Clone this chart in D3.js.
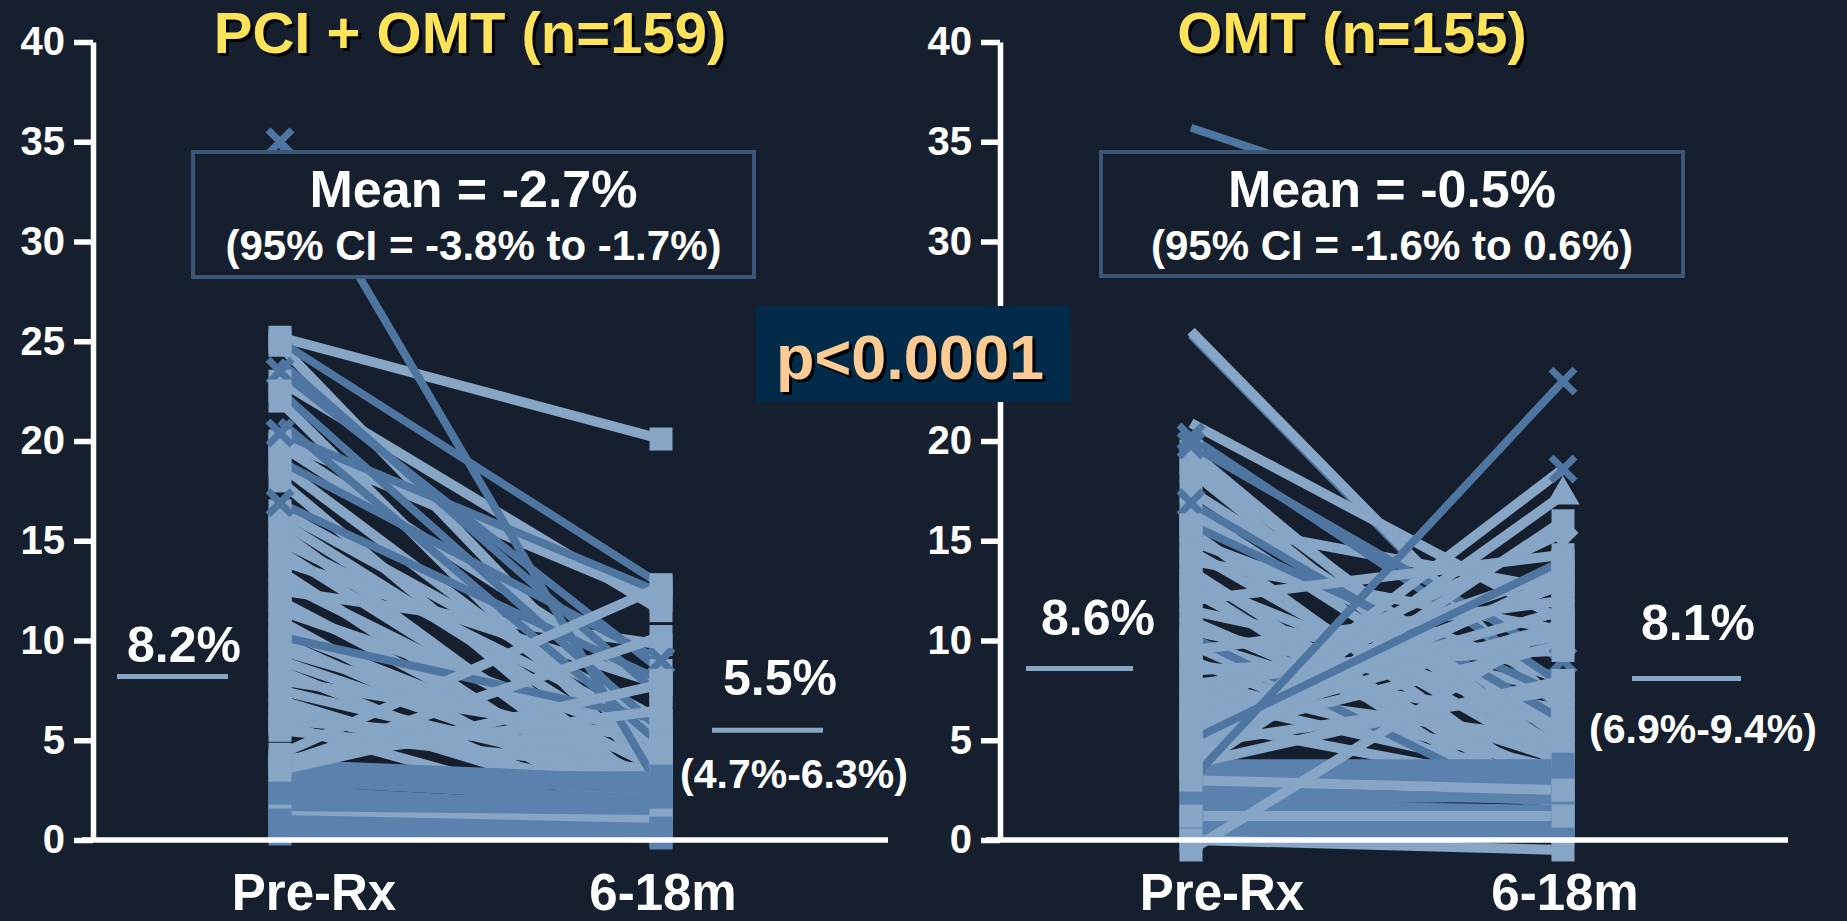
<!DOCTYPE html>
<html>
<head>
<meta charset="utf-8">
<script src="https://cdn.jsdelivr.net/npm/d3@7"></script>
<style>
  html, body { margin: 0; padding: 0; background: #151f2d; }
  svg { display: block; }
  text { font-family: "Liberation Sans", Arial, sans-serif; font-weight: bold; }
</style>
</head>
<body>
<svg id="chart" width="1847" height="921"></svg>
<script>
// ---- data -------------------------------------------------------------
const timepoints = ["Pre-Rx", "6-18m"];
const yTicks = [0, 5, 10, 15, 20, 25, 30, 35, 40];

// tone: 0 = light, 1 = dark, 2 = mid ; mark: pre/post marker codes
// s = square, x = cross, t = triangle, d = diamond, n = none
const pciPre  = [25.2, 24.8, 23.0, 22.0, 20.0, 19.8, 18.8, 18.0, 16.5, 16.0, 15.5, 15.0, 14.5, 14.0, 13.5, 13.0, 12.5, 12.0, 11.5, 11.0, 10.5, 10.0, 9.5, 9.0, 8.5, 8.0, 7.5, 7.0, 6.5, 6.0, 5.8, 5.5,
                 35.0, 25.0, 24.0, 23.5, 22.5, 21.0, 20.4, 19.0, 16.9, 10.2,
                 3.8, 3.5, 3.2, 3.0, 2.8, 2.5, 2.0, 1.8, 1.5, 1.2, 1.0, 0.8, 0.5, 0.3, 0.6,
                 4.3, 3.8, 3.5, 4.0];
const pciPost = [20.1, 5.0, 11.5, 3.0, 12.0, 7.5, 4.5, 2.0, 6.0, 4.0, 1.5, 5.5, 2.5, 7.8, 1.0, 3.5, 9.8, 2.0, 5.0, 0.5, 3.0, 1.5, 4.0, 2.5, 0.8, 5.0, 3.0, 1.2, 2.0, 4.5, 0.5, 3.5,
                 2.5, 12.8, 7.2, 8.5, 5.5, 4.8, 12.4, 9.0, 8.0, 6.0,
                 3.0, 2.5, 3.2, 2.0, 2.8, 1.5, 2.0, 1.2, 1.8, 1.0, 0.6, 0.3, 0.5, 0.2, 0.1,
                 12.7, 10.2, 7.8, 6.5];
const pciTone = [0, 0, 0, 0, 0, 0, 0, 0, 0, 0, 0, 0, 0, 0, 0, 0, 0, 0, 0, 0, 0, 0, 0, 0, 0, 0, 0, 0, 0, 0, 0, 0,
                 1, 1, 1, 1, 1, 1, 1, 1, 1, 1,
                 2, 2, 2, 2, 2, 2, 2, 2, 2, 0, 2, 2, 2, 2, 2,
                 0, 0, 0, 0];
const pciMark = ["ss", "ss", "ss", "ss", "ss", "ss", "ss", "ss", "ss", "ss", "ss", "ss", "ss", "ss", "ss", "ss", "ss", "ss", "ss", "ss", "ss", "ss", "ss", "ss", "ss", "ss", "ss", "ss", "ss", "ss", "ss", "ss",
                 "xn", "ss", "ns", "xs", "ss", "ns", "xs", "sx", "xs", "ss",
                 "ss", "ss", "ss", "ss", "ss", "ss", "ss", "ss", "ss", "ss", "ss", "ss", "ss", "ss", "ss",
                 "ss", "ss", "ss", "ss"];

const omtPre  = [25.3, 25.5, 20.9, 19.5, 18.9, 18.5, 17.5, 16.5, 16.0, 15.5, 15.0, 14.5, 14.0, 13.5, 13.0, 12.8, 12.5, 11.5, 11.0, 10.5, 10.0, 9.8, 9.0, 8.8, 8.0, 7.5, 7.2, 6.0,
                 35.7, 20.2, 19.8, 16.9, 15.8, 10.2,
                 3.8, 3.5, 3.2, 2.8, 2.5, 2.0, 1.8, 1.5, 1.0, 0.8, 0.5, 0.3, 3.0, 1.2,
                 12.0, 9.5, 8.5, 7.8, 7.0, 6.5, 6.2, 5.8, 5.5, 5.2, 4.8, 4.6, 3.8, 4.4, 4.0, 3.5, -0.5, 0.0,
                 5.0, 3.0];
const omtPost = [6.3, 6.5, 11.0, 4.0, 5.0, 3.5, 5.5, 4.5, 12.5, 2.0, 8.0, 3.8, 10.5, 1.5, 5.5, 0.8, 2.5, 7.5, 3.0, 6.5, 4.0, 1.5, 2.0, 6.0, 3.5, 5.0, 3.0, 2.5,
                 29.5, 7.8, 9.0, 6.0, 7.2, 1.0,
                 3.8, 3.0, 3.5, 2.8, 2.0, 2.2, 1.5, 1.2, 0.8, 0.5, 0.5, 0.2, 2.5, 1.2,
                 14.3, 12.0, 9.5, 10.2, 13.5, 15.4, 11.5, 12.8, 10.8, 9.8, 7.5, 13.2, 8.0, 18.6, 17.3, 16.0, 11.0, -0.5,
                 14.0, 23.0];
const omtTone = [1, 0, 0, 0, 0, 0, 0, 0, 0, 0, 0, 0, 0, 0, 0, 0, 0, 0, 0, 0, 0, 0, 0, 0, 0, 0, 0, 0,
                 1, 1, 1, 1, 1, 1,
                 2, 2, 2, 2, 2, 2, 2, 2, 2, 2, 2, 2, 0, 0,
                 0, 0, 0, 0, 0, 0, 0, 0, 0, 0, 0, 0, 0, 0, 0, 0, 0, 0,
                 1, 1];
const omtMark = ["nn", "ns", "ns", "ss", "ss", "ss", "ss", "ss", "ss", "ss", "ss", "ss", "ss", "ss", "ss", "ss", "ss", "ss", "ss", "ss", "ss", "ss", "ss", "ss", "ss", "ss", "ss", "ss",
                 "nn", "xs", "xx", "xs", "ss", "ss",
                 "ss", "ss", "ss", "ss", "ss", "ss", "ss", "ss", "ss", "ss", "ss", "ss", "ss", "ss",
                 "ss", "ss", "ss", "ss", "ss", "sd", "ss", "ss", "ss", "ss", "ss", "ss", "ss", "sx", "st", "ss", "ss", "ss",
                 "ss", "nx"];

// group means and statistics
const pciMeans = [8.2, 5.5];
const omtMeans = [8.6, 8.1];
const pciPostCI = [4.7, 6.3];
const omtPostCI = [6.9, 9.4];
const pciChange = { mean: -2.7, lo: -3.8, hi: -1.7 };
const omtChange = { mean: -0.5, lo: -1.6, hi: 0.6 };
const pciN = 159, omtN = 155;
const pValueText = "p<0.0001";

// ---- drawing ----------------------------------------------------------
const svg = d3.select("#chart");
const BG = "#151f2d";
const toneColor = ["#87a5c5", "#4f76a1", "#5b82ad"];
const crossColor = "#4f76a1";

svg.append("rect").attr("width", 1847).attr("height", 921).attr("fill", BG);

const y = d3.scaleLinear().domain([0, 40]).range([840, 42]);

function shadowText(g, x, yy, str, size, color, off) {
  g.append("text").attr("x", x + off).attr("y", yy + off).attr("text-anchor", "middle")
    .attr("font-size", size).attr("fill", "#000").text(str);
  g.append("text").attr("x", x).attr("y", yy).attr("text-anchor", "middle")
    .attr("font-size", size).attr("fill", color).text(str);
}

function drawMarker(g, kind, cx, cy, tone) {
  if (kind === "s") {
    g.append("rect").attr("x", cx - 11.5).attr("y", cy - 11.5).attr("width", 23).attr("height", 23)
      .attr("fill", toneColor[tone === 1 ? 0 : tone]);
  } else if (kind === "x") {
    const h = 12;
    g.append("path").attr("d", `M${cx - h},${cy - h}L${cx + h},${cy + h}M${cx - h},${cy + h}L${cx + h},${cy - h}`)
      .attr("stroke", crossColor).attr("stroke-width", 7).attr("fill", "none");
  } else if (kind === "t") {
    g.append("path").attr("transform", `translate(${cx},${cy})`)
      .attr("d", d3.symbol(d3.symbolTriangle, 480)()).attr("fill", toneColor[0]);
  } else if (kind === "d") {
    g.append("path").attr("transform", `translate(${cx},${cy}) rotate(45)`)
      .attr("d", "M-11,-11H11V11H-11Z").attr("fill", toneColor[0]);
  }
}

function drawPanel(cfg) {
  const g = svg.append("g");
  const x = d3.scalePoint().domain(timepoints).range([cfg.xPre, cfg.xPost]);
  const rows = cfg.pre.map((p, i) => ({ pre: p, post: cfg.post[i], tone: cfg.tone[i], mark: cfg.mark[i] }));

  // subject lines
  g.append("g").selectAll("line").data(rows).join("line")
    .attr("x1", x(timepoints[0])).attr("y1", d => y(d.pre))
    .attr("x2", x(timepoints[1])).attr("y2", d => y(d.post))
    .attr("stroke", d => toneColor[d.tone])
    .attr("stroke-width", d => d.tone === 1 ? 8 : 10);

  // endpoint markers
  const mg = g.append("g");
  rows.forEach(d => {
    drawMarker(mg, d.mark[0], x(timepoints[0]), y(d.pre), d.tone);
    drawMarker(mg, d.mark[1], x(timepoints[1]), y(d.post), d.tone);
  });

  // y axis
  const ax = g.append("g").attr("transform", `translate(${cfg.axisX},0)`)
    .call(d3.axisLeft(y).tickValues(yTicks).tickSize(19).tickSizeOuter(0).tickPadding(9));
  ax.select(".domain").attr("stroke", "#fff").attr("stroke-width", 5.5);
  ax.selectAll(".tick line").attr("stroke", "#fff").attr("stroke-width", 5.5);
  ax.selectAll(".tick text").attr("fill", "#fff").attr("font-size", 40)
    .attr("font-family", "'Liberation Sans', Arial, sans-serif").attr("font-weight", "bold");
  // ticks that sit beneath the p-value panel are not shown
  ax.selectAll(".tick").filter(d => cfg.hiddenTicks.includes(d)).remove();

  // baseline
  g.append("line").attr("x1", cfg.baseX0).attr("x2", cfg.baseX1)
    .attr("y1", y(0)).attr("y2", y(0)).attr("stroke", "#fff").attr("stroke-width", 5.5);

  // category labels
  g.append("text").attr("x", cfg.preLabelX).attr("y", 910).attr("text-anchor", "middle")
    .attr("font-size", 51).attr("fill", "#fff").text(timepoints[0]);
  g.append("text").attr("x", x(timepoints[1]) + 2).attr("y", 910).attr("text-anchor", "middle")
    .attr("font-size", 51).attr("fill", "#fff").text(timepoints[1]);

  // group means
  cfg.means.forEach((m, i) => {
    const s = cfg.meanSeg[i];
    g.append("line").attr("x1", s[0]).attr("x2", s[1]).attr("y1", y(m)).attr("y2", y(m))
      .attr("stroke", toneColor[0]).attr("stroke-width", 5);
    g.append("text").attr("x", cfg.meanLabel[i][0]).attr("y", cfg.meanLabel[i][1])
      .attr("text-anchor", "middle").attr("font-size", 50).attr("fill", "#fff").text(m.toFixed(1) + "%");
  });
  g.append("text").attr("x", cfg.ciLabel[0]).attr("y", cfg.ciLabel[1]).attr("text-anchor", "middle")
    .attr("font-size", 41).attr("fill", "#fff")
    .text(`(${cfg.ci[0].toFixed(1)}%-${cfg.ci[1].toFixed(1)}%)`);

  // change box
  const b = cfg.box;
  g.append("rect").attr("x", b[0]).attr("y", b[1]).attr("width", b[2] - b[0]).attr("height", b[3] - b[1])
    .attr("fill", BG).attr("stroke", "#3c5677").attr("stroke-width", 4);
  const cx = (b[0] + b[2]) / 2;
  g.append("text").attr("x", cx).attr("y", 207).attr("text-anchor", "middle")
    .attr("font-size", 52).attr("fill", "#fff").text(`Mean = ${cfg.change.mean.toFixed(1)}%`);
  g.append("text").attr("x", cx).attr("y", 260).attr("text-anchor", "middle")
    .attr("font-size", 42).attr("fill", "#fff")
    .text(`(95% CI = ${cfg.change.lo.toFixed(1)}% to ${cfg.change.hi.toFixed(1)}%)`);

  // title
  shadowText(g, cfg.titleX, 53, cfg.title, 58, "#fde35a", 3);
}

drawPanel({
  pre: pciPre, post: pciPost, tone: pciTone, mark: pciMark,
  xPre: 280, xPost: 661, axisX: 93, baseX0: 82, baseX1: 888,
  preLabelX: 314, hiddenTicks: [],
  means: pciMeans, meanSeg: [[117, 228], [712, 823]], meanLabel: [[184, 662], [780, 695]],
  ci: pciPostCI, ciLabel: [794, 788],
  box: [193, 152, 754, 277], change: pciChange,
  title: `PCI + OMT (n=${pciN})`, titleX: 470
});

drawPanel({
  pre: omtPre, post: omtPost, tone: omtTone, mark: omtMark,
  xPre: 1191, xPost: 1563, axisX: 1000, baseX0: 986, baseX1: 1788,
  preLabelX: 1222, hiddenTicks: [25],
  means: omtMeans, meanSeg: [[1026, 1133], [1632, 1741]], meanLabel: [[1098, 635], [1698, 640]],
  ci: omtPostCI, ciLabel: [1703, 743],
  box: [1101, 152, 1683, 276], change: omtChange,
  title: `OMT (n=${omtN})`, titleX: 1352
});

// between-group comparison
const pg = svg.append("g");
pg.append("rect").attr("x", 756).attr("y", 306).attr("width", 314).attr("height", 96).attr("fill", "#022b4a");
shadowText(pg, 910, 379, pValueText, 63, "#fecb94", 3);
</script>
</body>
</html>
